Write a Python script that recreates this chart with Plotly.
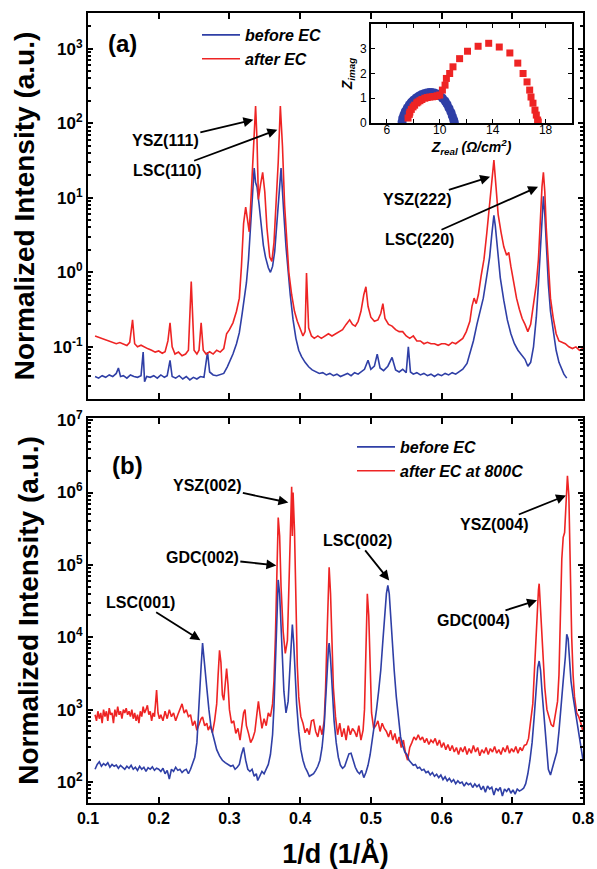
import plotly.graph_objects as go

# ---------------- data ----------------
# panel (a): 1/d (1/Å), normalized intensity
TOP_BEFORE = [(0.110,0.040),(0.115,0.038),(0.120,0.041),(0.125,0.039),(0.130,0.042),(0.135,0.040),(0.140,0.044),(0.143,0.052),(0.146,0.040),(0.150,0.041),(0.155,0.038),(0.160,0.042),(0.165,0.040),(0.170,0.039),(0.175,0.041),(0.178,0.085),(0.180,0.034),(0.183,0.040),(0.188,0.039),(0.193,0.041),(0.198,0.038),(0.203,0.042),(0.208,0.039),(0.212,0.041),(0.216,0.066),(0.219,0.040),(0.224,0.038),(0.229,0.041),(0.234,0.037),(0.239,0.040),(0.244,0.036),(0.249,0.039),(0.254,0.037),(0.259,0.040),(0.264,0.039),(0.269,0.085),(0.272,0.046),(0.277,0.042),(0.282,0.041),(0.287,0.043),(0.292,0.044),(0.297,0.054),(0.301,0.065),(0.305,0.080),(0.310,0.11),(0.314,0.155),(0.318,0.28),(0.321,0.45),(0.324,0.72),(0.327,1.5),(0.329,2.8),(0.331,5.6),(0.333,12),(0.335,25),(0.337,16),(0.339,14),(0.342,8),(0.345,4),(0.348,2.3),(0.351,1.6),(0.355,1.15),(0.358,1.0),(0.361,1.2),(0.364,1.9),(0.367,4),(0.369,8),(0.371,14),(0.373,25),(0.375,14),(0.377,6),(0.380,2.2),(0.383,1.0),(0.386,0.5),(0.390,0.23),(0.394,0.13),(0.398,0.09),(0.402,0.074),(0.407,0.062),(0.412,0.054),(0.417,0.049),(0.422,0.046),(0.427,0.044),(0.432,0.045),(0.437,0.042),(0.442,0.044),(0.447,0.041),(0.452,0.043),(0.457,0.040),(0.462,0.042),(0.467,0.044),(0.472,0.041),(0.477,0.045),(0.482,0.043),(0.487,0.047),(0.491,0.050),(0.496,0.066),(0.500,0.050),(0.505,0.055),(0.509,0.080),(0.513,0.052),(0.518,0.048),(0.524,0.055),(0.530,0.072),(0.535,0.049),(0.540,0.046),(0.545,0.050),(0.550,0.045),(0.553,0.100),(0.556,0.046),(0.560,0.043),(0.565,0.045),(0.570,0.042),(0.575,0.044),(0.580,0.041),(0.585,0.043),(0.590,0.040),(0.595,0.043),(0.600,0.041),(0.605,0.044),(0.610,0.042),(0.615,0.045),(0.620,0.043),(0.625,0.046),(0.630,0.050),(0.636,0.060),(0.641,0.090),(0.645,0.12),(0.650,0.20),(0.655,0.30),(0.659,0.45),(0.664,0.9),(0.668,1.6),(0.671,3.2),(0.674,5.8),(0.676,4.2),(0.679,1.9),(0.683,0.85),(0.688,0.42),(0.693,0.23),(0.698,0.15),(0.703,0.11),(0.708,0.09),(0.713,0.077),(0.718,0.068),(0.722,0.055),(0.726,0.062),(0.730,0.10),(0.734,0.25),(0.737,0.7),(0.740,2.5),(0.742,6),(0.744,10.5),(0.746,6),(0.748,2.2),(0.751,0.7),(0.754,0.3),(0.758,0.15),(0.762,0.09),(0.766,0.062),(0.770,0.050),(0.773,0.043),(0.777,0.038)]

TOP_AFTER = [(0.110,0.140),(0.115,0.135),(0.120,0.130),(0.125,0.124),(0.130,0.120),(0.135,0.115),(0.140,0.110),(0.145,0.114),(0.150,0.108),(0.155,0.104),(0.159,0.115),(0.163,0.23),(0.166,0.110),(0.170,0.100),(0.175,0.105),(0.180,0.098),(0.185,0.094),(0.190,0.090),(0.195,0.085),(0.200,0.088),(0.205,0.082),(0.209,0.086),(0.213,0.12),(0.216,0.21),(0.219,0.10),(0.223,0.080),(0.228,0.085),(0.233,0.076),(0.238,0.080),(0.242,0.090),(0.246,0.75),(0.250,0.090),(0.254,0.080),(0.257,0.090),(0.260,0.21),(0.263,0.090),(0.267,0.080),(0.272,0.086),(0.277,0.080),(0.282,0.090),(0.287,0.085),(0.292,0.095),(0.296,0.15),(0.300,0.17),(0.305,0.21),(0.310,0.30),(0.314,0.45),(0.317,1.2),(0.320,4.5),(0.323,7.5),(0.326,4.5),(0.328,3.5),(0.331,12),(0.334,60),(0.337,170),(0.339,60),(0.341,9.5),(0.344,15),(0.347,22),(0.350,12),(0.353,4),(0.357,1.6),(0.360,1.4),(0.363,2.5),(0.366,8),(0.369,30),(0.372,170),(0.375,50),(0.378,8),(0.381,2.5),(0.384,1.0),(0.388,0.5),(0.392,0.30),(0.396,0.22),(0.400,0.17),(0.404,0.14),(0.407,0.16),(0.409,0.98),(0.412,0.18),(0.416,0.14),(0.420,0.13),(0.425,0.14),(0.430,0.13),(0.435,0.14),(0.440,0.15),(0.445,0.14),(0.450,0.15),(0.455,0.16),(0.460,0.17),(0.465,0.20),(0.470,0.23),(0.474,0.20),(0.478,0.19),(0.482,0.22),(0.486,0.30),(0.490,0.50),(0.493,0.64),(0.496,0.35),(0.500,0.25),(0.505,0.22),(0.510,0.23),(0.514,0.28),(0.517,0.38),(0.520,0.24),(0.525,0.20),(0.530,0.19),(0.535,0.17),(0.540,0.16),(0.545,0.16),(0.550,0.14),(0.555,0.13),(0.560,0.14),(0.565,0.12),(0.570,0.12),(0.575,0.11),(0.580,0.115),(0.585,0.11),(0.590,0.11),(0.595,0.105),(0.600,0.11),(0.605,0.11),(0.610,0.105),(0.615,0.115),(0.620,0.11),(0.625,0.12),(0.630,0.13),(0.635,0.16),(0.640,0.22),(0.643,0.35),(0.646,0.45),(0.649,0.38),(0.652,0.5),(0.656,0.9),(0.660,1.5),(0.664,3.4),(0.668,8),(0.671,18),(0.674,32),(0.677,14),(0.680,6),(0.684,3.5),(0.688,2.2),(0.692,1.7),(0.695,1.85),(0.698,1.2),(0.702,0.7),(0.706,0.45),(0.710,0.32),(0.714,0.24),(0.718,0.20),(0.722,0.16),(0.726,0.20),(0.730,0.35),(0.734,0.7),(0.737,1.5),(0.740,6),(0.742,14),(0.744,22),(0.746,12),(0.748,4),(0.751,1.2),(0.754,0.45),(0.758,0.24),(0.762,0.15),(0.766,0.12),(0.770,0.115),(0.775,0.11),(0.780,0.10),(0.785,0.095),(0.790,0.10),(0.795,0.09),(0.800,0.095)]

# panel (b)
BOT_BEFORE = [(0.110,150),(0.113,175),(0.116,190),(0.119,165),(0.122,180),(0.125,170),(0.128,185),(0.131,160),(0.134,175),(0.137,165),(0.140,172),(0.143,155),(0.146,170),(0.149,160),(0.152,150),(0.155,165),(0.158,155),(0.161,170),(0.164,150),(0.167,160),(0.170,145),(0.173,165),(0.176,150),(0.179,160),(0.182,140),(0.185,158),(0.188,150),(0.191,162),(0.194,145),(0.197,155),(0.200,150),(0.203,140),(0.206,155),(0.209,130),(0.212,145),(0.215,110),(0.218,150),(0.221,140),(0.224,160),(0.227,145),(0.230,150),(0.233,135),(0.236,145),(0.239,150),(0.242,130),(0.245,150),(0.248,180),(0.251,220),(0.254,350),(0.256,700),(0.258,1400),(0.260,4000),(0.262,8300),(0.264,5500),(0.266,3000),(0.268,2000),(0.271,1000),(0.274,570),(0.278,400),(0.282,280),(0.286,230),(0.290,200),(0.294,185),(0.298,175),(0.302,165),(0.305,170),(0.308,150),(0.311,160),(0.314,175),(0.317,240),(0.320,300),(0.323,200),(0.326,150),(0.329,140),(0.332,150),(0.335,120),(0.338,130),(0.340,105),(0.343,125),(0.346,140),(0.349,130),(0.352,150),(0.355,175),(0.358,240),(0.361,450),(0.363,1100),(0.365,4000),(0.367,20000),(0.369,62000),(0.371,40000),(0.373,12000),(0.375,4000),(0.377,1800),(0.380,900),(0.383,1300),(0.386,4500),(0.389,15000),(0.391,8000),(0.393,3000),(0.395,1200),(0.398,500),(0.401,280),(0.404,200),(0.407,160),(0.410,140),(0.413,120),(0.416,125),(0.419,130),(0.422,145),(0.425,165),(0.428,200),(0.431,300),(0.434,600),(0.436,1200),(0.438,3000),(0.440,7000),(0.441,8300),(0.443,5000),(0.445,2000),(0.448,700),(0.451,350),(0.454,220),(0.457,170),(0.460,155),(0.463,165),(0.466,200),(0.469,245),(0.472,250),(0.475,200),(0.478,160),(0.481,140),(0.484,130),(0.487,145),(0.490,115),(0.493,135),(0.496,170),(0.499,240),(0.502,380),(0.505,600),(0.508,1000),(0.511,1800),(0.514,3500),(0.517,9000),(0.520,25000),(0.522,40000),(0.524,52000),(0.526,40000),(0.528,20000),(0.530,9000),(0.533,3500),(0.536,1500),(0.539,700),(0.542,420),(0.545,320),(0.548,260),(0.551,240),(0.554,200),(0.557,185),(0.560,170),(0.563,175),(0.566,155),(0.569,160),(0.572,145),(0.575,150),(0.578,135),(0.581,140),(0.584,125),(0.587,135),(0.590,120),(0.593,128),(0.596,115),(0.599,125),(0.602,108),(0.605,118),(0.608,104),(0.611,112),(0.614,100),(0.617,108),(0.620,95),(0.623,104),(0.626,96),(0.629,100),(0.632,88),(0.635,98),(0.638,92),(0.641,96),(0.644,84),(0.647,94),(0.650,86),(0.653,92),(0.656,78),(0.659,88),(0.662,72),(0.665,88),(0.668,80),(0.671,85),(0.674,66),(0.677,82),(0.680,76),(0.683,84),(0.686,64),(0.689,80),(0.692,74),(0.695,82),(0.698,70),(0.701,78),(0.704,68),(0.707,80),(0.710,75),(0.713,78),(0.716,82),(0.719,95),(0.722,130),(0.725,200),(0.728,350),(0.731,800),(0.734,2000),(0.736,3800),(0.738,4700),(0.740,3500),(0.742,1800),(0.745,800),(0.748,350),(0.751,150),(0.754,125),(0.757,160),(0.760,200),(0.763,260),(0.766,500),(0.769,1000),(0.772,2500),(0.775,5300),(0.777,11000),(0.779,9500),(0.781,5000),(0.783,2500),(0.786,1500),(0.789,1000),(0.792,650),(0.796,350),(0.800,200)]

BOT_AFTER = [(0.110,850),(0.112,700),(0.114,950),(0.116,750),(0.118,900),(0.120,650),(0.122,1000),(0.124,800),(0.126,950),(0.128,700),(0.130,1050),(0.132,850),(0.134,900),(0.136,650),(0.138,1000),(0.140,800),(0.142,1100),(0.144,850),(0.146,950),(0.148,750),(0.150,1000),(0.152,900),(0.154,1050),(0.156,850),(0.158,950),(0.160,800),(0.162,1000),(0.164,750),(0.166,900),(0.168,700),(0.170,850),(0.172,650),(0.174,950),(0.176,800),(0.178,1100),(0.180,900),(0.182,1000),(0.184,1150),(0.186,850),(0.188,950),(0.190,700),(0.192,900),(0.194,800),(0.196,1300),(0.197,1870),(0.199,900),(0.201,750),(0.203,850),(0.206,700),(0.209,950),(0.212,750),(0.215,1000),(0.218,800),(0.221,900),(0.224,700),(0.227,850),(0.230,1000),(0.233,1200),(0.236,900),(0.239,1000),(0.242,800),(0.245,850),(0.248,600),(0.251,700),(0.254,520),(0.257,650),(0.260,750),(0.262,790),(0.265,600),(0.268,650),(0.270,520),(0.273,600),(0.276,480),(0.279,700),(0.282,1200),(0.284,3000),(0.286,6600),(0.288,4500),(0.290,1600),(0.292,1350),(0.294,2500),(0.296,3700),(0.298,2200),(0.300,1000),(0.303,650),(0.306,700),(0.309,470),(0.312,550),(0.315,380),(0.318,600),(0.320,900),(0.322,1000),(0.324,600),(0.327,470),(0.330,350),(0.333,400),(0.336,500),(0.339,900),(0.341,1300),(0.343,900),(0.346,550),(0.349,750),(0.352,600),(0.355,900),(0.358,800),(0.361,1200),(0.363,2500),(0.365,10000),(0.367,100000),(0.369,450000),(0.371,250000),(0.373,50000),(0.376,12000),(0.379,6000),(0.382,9000),(0.385,100000),(0.387,800000),(0.388,1200000),(0.389,250000),(0.390,1000000),(0.392,300000),(0.394,25000),(0.396,4000),(0.398,1500),(0.401,800),(0.404,650),(0.407,480),(0.410,550),(0.413,450),(0.416,700),(0.419,720),(0.422,500),(0.425,420),(0.428,600),(0.431,450),(0.434,700),(0.436,2000),(0.438,10000),(0.440,60000),(0.441,93000),(0.443,40000),(0.445,8000),(0.447,2000),(0.450,800),(0.453,450),(0.456,650),(0.459,420),(0.462,550),(0.465,380),(0.468,600),(0.471,450),(0.474,550),(0.477,500),(0.480,420),(0.483,600),(0.486,380),(0.489,520),(0.491,1000),(0.493,8000),(0.495,40000),(0.497,20000),(0.499,3000),(0.501,900),(0.504,550),(0.507,600),(0.510,700),(0.513,500),(0.516,650),(0.519,550),(0.522,500),(0.525,420),(0.528,520),(0.531,380),(0.534,470),(0.537,340),(0.540,420),(0.543,300),(0.546,380),(0.549,250),(0.552,200),(0.555,300),(0.558,350),(0.561,420),(0.564,380),(0.567,450),(0.570,380),(0.573,420),(0.576,350),(0.579,400),(0.582,330),(0.585,380),(0.588,350),(0.591,400),(0.594,320),(0.597,380),(0.600,300),(0.603,350),(0.606,280),(0.609,330),(0.612,270),(0.615,320),(0.618,260),(0.621,300),(0.624,240),(0.627,300),(0.630,260),(0.633,310),(0.636,240),(0.639,290),(0.642,250),(0.645,320),(0.648,260),(0.651,300),(0.654,230),(0.657,280),(0.660,250),(0.663,300),(0.666,240),(0.669,290),(0.672,260),(0.675,310),(0.678,250),(0.681,280),(0.684,240),(0.687,300),(0.690,260),(0.693,320),(0.696,250),(0.699,290),(0.702,260),(0.705,310),(0.708,250),(0.711,300),(0.714,270),(0.717,320),(0.720,330),(0.723,400),(0.726,700),(0.729,1200),(0.731,3000),(0.733,8000),(0.735,17000),(0.737,45000),(0.738,55000),(0.740,25000),(0.742,12000),(0.744,5000),(0.746,2000),(0.749,1000),(0.752,750),(0.755,620),(0.758,580),(0.761,900),(0.764,1300),(0.766,3000),(0.768,20000),(0.770,120000),(0.772,240000),(0.774,280000),(0.776,700000),(0.778,1700000),(0.780,900000),(0.782,84000),(0.784,10000),(0.786,3000),(0.788,1500),(0.791,900),(0.794,800),(0.797,650),(0.800,500)]

# inset: impedance spectra (Z_real, Z_imag)
INSET_BEFORE = [(7.15,0.05),(7.2,0.2),(7.3,0.35),(7.4,0.48),(7.55,0.62),(7.7,0.74),(7.85,0.84),(8.0,0.92),(8.2,1.01),(8.4,1.08),(8.6,1.14),(8.8,1.18),(9.0,1.21),(9.2,1.23),(9.4,1.23),(9.6,1.21),(9.8,1.17),(10.0,1.1),(10.2,1.01),(10.4,0.89),(10.55,0.76),(10.7,0.6),(10.85,0.43),(10.95,0.28),(11.05,0.13),(11.1,0.03)]
INSET_AFTER = [(7.6,0.2),(7.7,0.35),(7.74,0.44),(7.85,0.55),(7.98,0.65),(8.1,0.72),(8.26,0.81),(8.35,0.85),(8.5,0.9),(8.65,0.95),(8.87,1.0),(9.05,1.03),(9.25,1.05),(9.45,1.06),(9.6,1.07),(9.8,1.1),(10.0,1.13),(10.2,1.33),(10.4,1.53),(10.5,1.8),(10.75,2.0),(11.0,2.27),(11.5,2.6),(12.1,2.9),(12.9,3.1),(13.7,3.22),(14.5,3.07),(15.3,2.83),(15.9,2.42),(16.3,2.0),(16.6,1.66),(16.8,1.33),(16.9,1.05),(17.05,0.8),(17.2,0.52),(17.3,0.32),(17.4,0.12),(17.45,0.04)]

TOP_TICKS = [0.1, 1, 10, 100, 1000]
TOP_TICKTEXT = ["10<sup>-1</sup>", "10<sup>0</sup>", "10<sup>1</sup>", "10<sup>2</sup>", "10<sup>3</sup>"]
BOT_TICKS = [1e2, 1e3, 1e4, 1e5, 1e6, 1e7]
BOT_TICKTEXT = ["10<sup>2</sup>", "10<sup>3</sup>", "10<sup>4</sup>", "10<sup>5</sup>", "10<sup>6</sup>", "10<sup>7</sup>"]
X_TICKS = [0.1, 0.2, 0.3, 0.4, 0.5, 0.6, 0.7, 0.8]
X_TICKTEXT = ["0.1", "0.2", "0.3", "0.4", "0.5", "0.6", "0.7", "0.8"]

# ---------------- style ----------------
BLUE = "#2f3fa6"
RED = "#ee2424"
FONT = "Liberation Sans"
W, H = 597, 869
ML, MR, MT, MB = 88, 14, 13, 66
PW, PH = W - ML - MR, H - MT - MB


def xy(pairs):
    return [p[0] for p in pairs], [p[1] for p in pairs]


def minor_vals(lo_exp, hi_exp, lo, hi):
    out = []
    for e in range(lo_exp, hi_exp + 1):
        for m in range(2, 10):
            v = m * 10 ** e
            if lo <= v <= hi:
                out.append(v)
    return out


def px_x(px):
    return (px - ML) / PW


def px_y(py):
    return 1 - (py - MT) / PH


fig = go.Figure()

tx, ty = xy(TOP_BEFORE)
fig.add_trace(go.Scatter(x=tx, y=ty, mode="lines", name="before EC", line=dict(color=BLUE, width=1.6),
                         xaxis="x", yaxis="y", legend="legend", legendrank=1))
tx, ty = xy(TOP_AFTER)
fig.add_trace(go.Scatter(x=tx, y=ty, mode="lines", name="after EC", line=dict(color=RED, width=1.6),
                         xaxis="x", yaxis="y", legend="legend", legendrank=2))

bx, by = xy(BOT_AFTER)
fig.add_trace(go.Scatter(x=bx, y=by, mode="lines", name="after EC at 800C", line=dict(color=RED, width=1.6),
                         xaxis="x2", yaxis="y2", legend="legend2", legendrank=2))
bx, by = xy(BOT_BEFORE)
fig.add_trace(go.Scatter(x=bx, y=by, mode="lines", name="before EC", line=dict(color=BLUE, width=1.6),
                         xaxis="x2", yaxis="y2", legend="legend2", legendrank=1))

ix, iy = xy(INSET_BEFORE)
fig.add_trace(go.Scatter(x=ix, y=iy, mode="markers", marker=dict(color=BLUE, size=9, symbol="circle"),
                         xaxis="x3", yaxis="y3", showlegend=False))
ix, iy = xy(INSET_AFTER)
fig.add_trace(go.Scatter(x=ix, y=iy, mode="markers", marker=dict(color=RED, size=7, symbol="square"),
                         xaxis="x3", yaxis="y3", showlegend=False))

tickfont = dict(family=FONT, size=16, color="black", weight="bold")
ytickfont = dict(family=FONT, size=17, color="black", weight="bold")
frame = dict(showline=True, linewidth=2, linecolor="black", mirror="allticks", ticks="inside",
             tickcolor="black", showgrid=False, zeroline=False, automargin=False)

TOP_DOM = [px_y(399), 1.0]
BOT_DOM = [0.0, px_y(418)]
ytitle_font = dict(family=FONT, size=28, weight="bold")

fig.update_layout(
    width=W, height=H,
    margin=dict(l=ML, r=MR, t=MT, b=MB, autoexpand=False),
    paper_bgcolor="white", plot_bgcolor="white",
    font=dict(family=FONT, color="black"),
    xaxis=dict(domain=[0, 1], anchor="y", range=[0.1, 0.8], tickvals=X_TICKS, showticklabels=False,
               ticklen=6, tickwidth=1.5, **frame),
    yaxis=dict(domain=TOP_DOM, anchor="x", type="log", range=[-1.70, 3.48],
               tickvals=TOP_TICKS, ticktext=TOP_TICKTEXT, tickfont=ytickfont, ticklen=5, tickwidth=1.5,
               minor=dict(tickvals=minor_vals(-2, 3, 0.02, 3000), ticks="inside", ticklen=3, tickcolor="black"),
               title=dict(text="Normalized Intensity (a.u.)", font=ytitle_font, standoff=10),
               **frame),
    xaxis2=dict(domain=[0, 1], anchor="y2", range=[0.1, 0.8], tickvals=X_TICKS,
                ticktext=X_TICKTEXT, tickfont=tickfont, ticklen=6, tickwidth=1.5,
                title=dict(text="1/d (1/Å)", font=dict(family=FONT, size=27, weight="bold"), standoff=20),
                **frame),
    yaxis2=dict(domain=BOT_DOM, anchor="x2", type="log", range=[1.71, 7.03],
                tickvals=BOT_TICKS, ticktext=BOT_TICKTEXT, tickfont=ytickfont, ticklen=5, tickwidth=1.5,
                minor=dict(tickvals=minor_vals(1, 6, 52, 1.07e7), ticks="inside", ticklen=3, tickcolor="black"),
                title=dict(text="Normalized Intensity (a.u.)", font=ytitle_font, standoff=10),
                **frame),
    xaxis3=dict(domain=[px_x(371), px_x(572)], anchor="y3", range=[4.8, 20],
                tickvals=[6, 10, 14, 18], tickfont=dict(family=FONT, size=12, color="black"),
                ticklen=4, tickwidth=1.2, ticklabelstandoff=-5,
                minor=dict(tickvals=[8, 12, 16], ticks="inside", ticklen=4, tickcolor="black"),
                title=dict(text="<i><b>Z<sub>real</sub> (Ω/cm<sup>2</sup>)</b></i>",
                           font=dict(family=FONT, size=14), standoff=0),
                **frame),
    yaxis3=dict(domain=[px_y(123), px_y(24)], anchor="x3", range=[0, 4],
                tickvals=[0, 1, 2, 3], tickfont=dict(family=FONT, size=12, color="black"),
                ticklen=4, tickwidth=1.2,
                title=dict(text="<i><b>Z<sub>imag</sub></b></i>", font=dict(family=FONT, size=14), standoff=4),
                **frame),
    legend=dict(x=px_x(197), xanchor="left", y=px_y(18), yanchor="top",
                bgcolor="rgba(0,0,0,0)", font=dict(family=FONT, size=16, style="italic", weight="bold"),
                tracegroupgap=0, itemwidth=38),
    legend2=dict(x=px_x(352), xanchor="left", y=px_y(430), yanchor="top",
                 bgcolor="rgba(0,0,0,0)", font=dict(family=FONT, size=16, style="italic", weight="bold"),
                 tracegroupgap=0, itemwidth=38),
    showlegend=True,
)

ann_font = dict(family=FONT, size=16, color="black", weight="bold")
LABELS_TOP = [
    ("YSZ(111)", 0.3338, 2.047, -88, 21),
    ("LSC(110)", 0.3677, 1.913, -110, 41),
    ("YSZ(222)", 0.6686, 1.282, -73, 23),
    ("LSC(220)", 0.7364, 1.148, -119, 53),
]
LABELS_BOT = [
    ("YSZ(002)", 0.3833, 5.862, -81, -17),
    ("GDC(002)", 0.3663, 4.993, -74, -8),
    ("LSC(001)", 0.2589, 3.959, -60, -38),
    ("LSC(002)", 0.5259, 4.786, -32, -40),
    ("YSZ(004)", 0.7759, 5.959, -72, 29),
    ("GDC(004)", 0.7349, 4.510, -63, 20),
]
for text, x, y, ax, ay in LABELS_TOP:
    fig.add_annotation(x=x, y=y, xref="x", yref="y", text=text, showarrow=True, ax=ax, ay=ay,
                       arrowhead=2, arrowsize=1.1, arrowwidth=1.8, arrowcolor="black", font=ann_font)
for text, x, y, ax, ay in LABELS_BOT:
    fig.add_annotation(x=x, y=y, xref="x2", yref="y2", text=text, showarrow=True, ax=ax, ay=ay,
                       arrowhead=2, arrowsize=1.1, arrowwidth=1.8, arrowcolor="black", font=ann_font)

fig.add_annotation(text="(a)", x=px_x(122), y=px_y(44), xref="paper", yref="paper",
                   xanchor="center", yanchor="middle",
                   showarrow=False, font=dict(family=FONT, size=24, weight="bold"))
fig.add_annotation(text="(b)", x=px_x(127), y=px_y(465), xref="paper", yref="paper",
                   xanchor="center", yanchor="middle",
                   showarrow=False, font=dict(family=FONT, size=24, weight="bold"))

fig.write_html("out.html")
